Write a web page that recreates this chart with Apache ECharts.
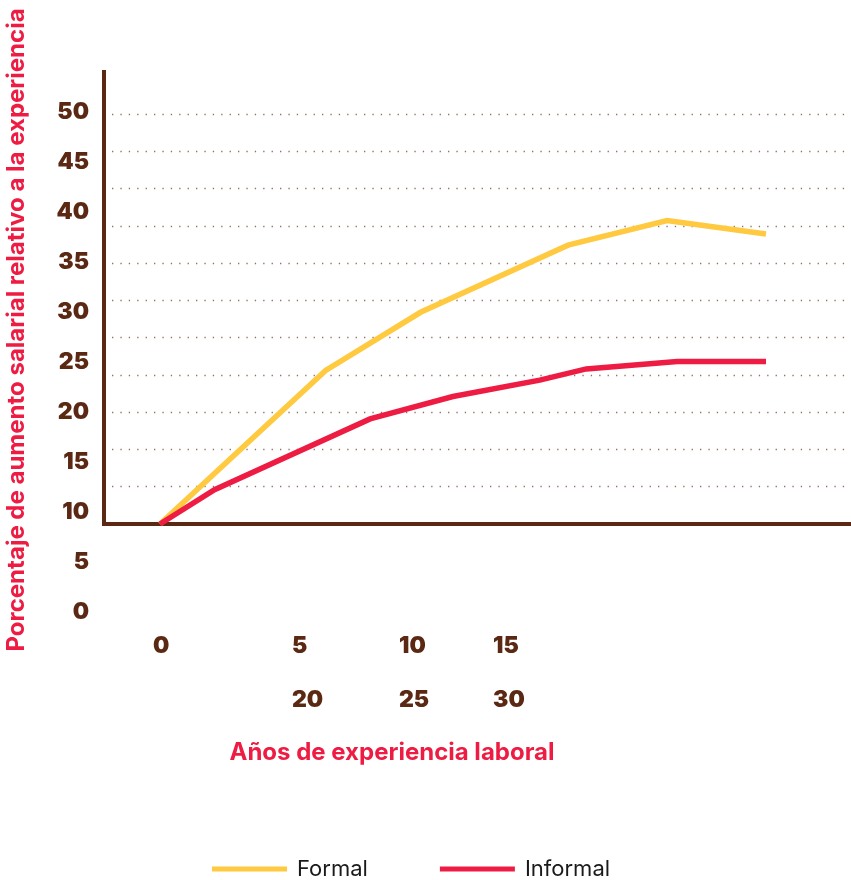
<!DOCTYPE html>
<html>
<head>
<meta charset="utf-8">
<script src="https://cdn.jsdelivr.net/npm/echarts@6/dist/echarts.min.js"></script>
<style>
html,body{margin:0;padding:0;background:#fff;}
#chart{width:851px;height:880px;}
</style>
</head>
<body>
<div id="chart"></div>
<script>
// ---- data ----
const seriesNames = ['Formal', 'Informal'];
const formalYears = [0, 8.2, 12.9, 20.2, 25.1, 30];
const formalValues = [0, 20.6, 28.4, 37.4, 40.7, 38.9];
const informalYears = [0, 2.7, 10.4, 14.5, 18.8, 21.1, 25.6, 30];
const informalValues = [0, 4.6, 14.1, 17.1, 19.3, 20.8, 21.8, 21.8];
const yTickLabels = ['0', '5', '10', '15', '20', '25', '30', '35', '40', '45', '50'];
const xTickRow1 = ['0', '5', '10', '15'];
const xTickRow2 = ['20', '25', '30'];
const yTitle = 'Porcentaje de aumento salarial relativo a la experiencia';
const xTitle = 'Años de experiencia laboral';

// ---- styles / layout ----
const BROWN = '#5b2814';
const YELLOW = '#FFC940';
const RED = '#EE1C42';
const FONT = 'Inter, "Noto Sans", sans-serif';
const row1Left = [153, 292, 399, 493];
const row2Left = [292, 399, 493];

function pair(xs, ys) { return xs.map((x, i) => [x, ys[i]]); }

const graphics = [];
xTickRow1.forEach((t, i) => graphics.push({
  type: 'text', x: row1Left[i], y: 646,
  style: { text: t, fill: BROWN, font: '900 23px ' + FONT, textAlign: 'left', textVerticalAlign: 'middle' }
}));
xTickRow2.forEach((t, i) => graphics.push({
  type: 'text', x: row2Left[i], y: 700,
  style: { text: t, fill: BROWN, font: '900 23px ' + FONT, textAlign: 'left', textVerticalAlign: 'middle' }
}));
graphics.push({
  type: 'text', x: 392, y: 753,
  style: { text: xTitle, fill: RED, font: '700 24px ' + FONT, textAlign: 'center', textVerticalAlign: 'middle' }
});
graphics.push({
  type: 'text', x: 17, y: 330, rotation: Math.PI / 2,
  style: { text: yTitle, fill: RED, font: '700 24px ' + FONT, textAlign: 'center', textVerticalAlign: 'middle' }
});

const hidden = { show: false };
const option = {
  animation: false,
  backgroundColor: '#fff',
  grid: [
    { left: 104, right: 0, top: 72, bottom: 356 },   // frame
    { left: 112, right: 0, top: 114, bottom: 356 },  // dotted gridlines
    { left: 160, right: 85, top: 114, bottom: 356 }, // data
    { left: 104, right: 0, top: 112, bottom: 268 }   // y tick labels
  ],
  xAxis: [
    { gridIndex: 0, type: 'value', min: 0, max: 1, axisLine: { show: true, onZero: false, lineStyle: { color: BROWN, width: 4, cap: 'square' } }, axisTick: hidden, axisLabel: hidden, splitLine: hidden },
    { gridIndex: 1, type: 'value', min: 0, max: 1, axisLine: hidden, axisTick: hidden, axisLabel: hidden, splitLine: hidden },
    { gridIndex: 2, type: 'value', min: 0, max: 30, axisLine: hidden, axisTick: hidden, axisLabel: hidden, splitLine: hidden },
    { gridIndex: 3, type: 'value', min: 0, max: 1, axisLine: hidden, axisTick: hidden, axisLabel: hidden, splitLine: hidden }
  ],
  yAxis: [
    { gridIndex: 0, type: 'value', min: 0, max: 1, axisLine: { show: true, onZero: false, lineStyle: { color: BROWN, width: 4, cap: 'square' } }, axisTick: hidden, axisLabel: hidden, splitLine: hidden },
    { gridIndex: 1, type: 'value', min: 0, max: 55, interval: 5, axisLine: hidden, axisTick: hidden, axisLabel: hidden,
      splitLine: { show: true, showMinLine: false, lineStyle: { color: '#8f7062', width: 1.3, type: [1.3, 7.1] } } },
    { gridIndex: 2, type: 'value', min: 0, max: 55, interval: 5, axisLine: hidden, axisTick: hidden, axisLabel: hidden, splitLine: hidden },
    { gridIndex: 3, type: 'value', min: 0, max: 50, interval: 5, axisLine: hidden, axisTick: hidden, splitLine: hidden,
      axisLabel: { show: true, margin: 15, color: BROWN, fontSize: 23, fontWeight: 900, fontFamily: FONT,
        formatter: (v) => yTickLabels[Math.round(v / 5)] } }
  ],
  legend: {
    data: seriesNames,
    left: 212, top: 858, padding: 0,
    icon: 'rect', itemWidth: 75, itemHeight: 5, itemGap: 72,
    textStyle: { color: '#1a1a1a', fontSize: 22, fontFamily: FONT, padding: [0, 0, 9, 5] }
  },
  graphic: graphics,
  series: [
    { name: seriesNames[0], type: 'line', xAxisIndex: 2, yAxisIndex: 2, data: pair(formalYears, formalValues),
      showSymbol: false, symbol: 'none', color: YELLOW, lineStyle: { color: YELLOW, width: 5.5, cap: 'butt', join: 'miter' }, z: 3 },
    { name: seriesNames[1], type: 'line', xAxisIndex: 2, yAxisIndex: 2, data: pair(informalYears, informalValues),
      showSymbol: false, symbol: 'none', color: RED, lineStyle: { color: RED, width: 5.5, cap: 'butt', join: 'miter' }, z: 3 }
  ]
};
const chart = echarts.init(document.getElementById('chart'), null, { renderer: 'canvas' });
chart.setOption(option);
</script>
</body>
</html>
